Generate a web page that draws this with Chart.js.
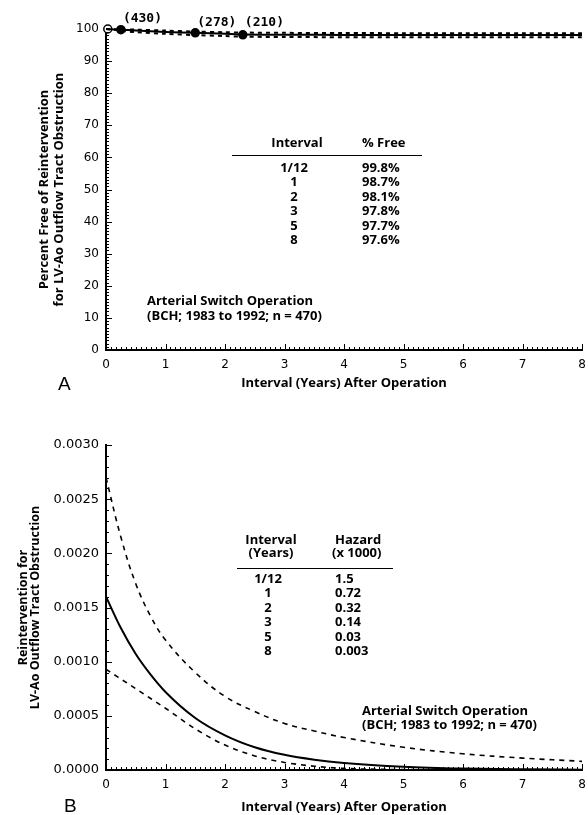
<!DOCTYPE html>
<html>
<head>
<meta charset="utf-8">
<script src="https://cdn.jsdelivr.net/npm/chart.js"></script>
<style>
  html, body { margin: 0; padding: 0; background: #fff; }
  #page { position: relative; width: 588px; height: 815px; background: #fff; overflow: hidden; }
  canvas { position: absolute; left: 0; }
  .txt { position: absolute; font-family: 'Open Sans', sans-serif; font-weight: 700; font-size: 13px; color: #000; white-space: nowrap; line-height: 14.4px; }
  .rule { position: absolute; height: 0; border-top: 1.5px solid #000; }
  .panel { position: absolute; font-family: 'Liberation Sans', sans-serif; font-size: 19px; color: #000; }
  .risk { position: absolute; font-family: 'DejaVu Sans Mono', monospace; font-weight: 700; font-size: 13px; color: #000; white-space: nowrap; }
</style>
</head>
<body>
<div id="page">
  <canvas id="chartA" width="588" height="395" style="top:0"></canvas>
  <canvas id="chartB" width="588" height="415" style="top:400px"></canvas>
</div>
<script>
// Panel A - percent free of reintervention
var freeYears = [0, 0.25, 0.5, 1, 1.5, 2, 2.3, 3, 4, 5, 6, 7, 8];
var freeEst   = [100, 99.8, 99.5, 99.1, 98.8, 98.5, 98.3, 98.2, 98.15, 98.1, 98.1, 98.1, 98.1];
var freeUpper = [100, 99.9, 99.8, 99.5, 99.2, 99.0, 98.9, 98.8, 98.75, 98.7, 98.7, 98.7, 98.7];
var freeLower = [100, 99.5, 99.0, 98.5, 98.1, 97.8, 97.6, 97.5, 97.45, 97.4, 97.4, 97.4, 97.4];
var eventYears = [0.03, 0.25, 1.5, 2.3];
var eventFree  = [100, 99.8, 98.8, 98.2];
var riskYears  = [0.25, 1.5, 2.3];
var riskLabels = ['(430)', '(278)', '(210)'];
var tableAIntervals = ['1/12', '1', '2', '3', '5', '8'];
var tableAFree = ['99.8%', '98.7%', '98.1%', '97.8%', '97.7%', '97.6%'];

// Panel B - hazard
var hazYears = [0, 0.25, 0.5, 0.75, 1, 1.5, 2, 2.5, 3, 3.5, 4, 5, 6, 7, 8];
var hazEst   = [0.0016, 0.00131, 0.00107, 0.00088, 0.00072, 0.00048, 0.00032, 0.00021, 0.00014, 0.000095, 0.000065, 0.00003, 0.000013, 0.000006, 0.000003];
var hazUpper = [0.0027, 0.00215, 0.00172, 0.00142, 0.0012, 0.0009, 0.00068, 0.00054, 0.00043, 0.00036, 0.0003, 0.00021, 0.00015, 0.00011, 0.00008];
var hazLower = [0.00093, 0.00084, 0.00075, 0.00066, 0.00057, 0.00038, 0.00023, 0.00013, 0.00007, 0.000035, 0.000015, 0.000004, 0.000001, 0.0000003, 0.0000001];
var tableBIntervals = ['1/12', '1', '2', '3', '5', '8'];
var tableBHazard = ['1.5', '0.72', '0.32', '0.14', '0.03', '0.003'];

var xTicks = [0, 1, 2, 3, 4, 5, 6, 7, 8];

function pts(xs, ys) {
    return xs.map(function(x, i) { return {x: x, y: ys[i]}; });
}

// small inward tick marks along both axes
var inwardTicks = {
    id: 'inwardTicks',
    afterDraw: function(chart, args, opts) {
        var ctx = chart.ctx, area = chart.chartArea;
        var x = chart.scales.x, y = chart.scales.y;
        ctx.save();
        ctx.strokeStyle = '#000';
        ctx.lineWidth = 1;
        ctx.beginPath();
        var ny = Math.round((y.max - y.min) / opts.yStep);
        for (var i = 0; i <= ny; i++) {
            var py = Math.round(y.getPixelForValue(y.min + i * opts.yStep)) + 0.5;
            var len = (i % opts.yMajor === 0) ? 6 : 3;
            ctx.moveTo(area.left, py);
            ctx.lineTo(area.left + len, py);
        }
        var nx = Math.round((x.max - x.min) * 12);
        for (var j = 0; j <= nx; j++) {
            var px = Math.round(x.getPixelForValue(x.min + j / 12)) + 0.5;
            var l2 = (j % 12 === 0) ? 6 : 3;
            ctx.moveTo(px, area.bottom);
            ctx.lineTo(px, area.bottom - l2);
        }
        ctx.stroke();
        ctx.restore();
    }
};

var tickFont = {family: 'DejaVu Sans', size: 12};
var titleFont = {family: 'Open Sans', size: 13, weight: 'bold', lineHeight: 1.15};

function xScale(titlePad) {
    return {
        type: 'linear', min: 0, max: 8,
        afterBuildTicks: function(s) { s.ticks = xTicks.map(function(v) { return {value: v}; }); },
        ticks: {font: tickFont, color: '#000', padding: 8},
        grid: {display: false, drawTicks: false},
        border: {display: true, color: '#000', width: 2},
        title: {display: true, text: 'Interval (Years) After Operation', font: titleFont, color: '#000', padding: {top: 0, bottom: titlePad}},
        afterFit: function(s) { s.height = 45; s.paddingLeft = 0; s.paddingRight = 0; }
    };
}

new Chart(document.getElementById('chartA'), {
    type: 'line',
    data: {
        datasets: [
            {data: pts(freeYears, freeUpper), borderColor: '#000', borderWidth: 2, borderDash: [4, 4], pointRadius: 0, tension: 0.3, clip: false},
            {data: pts(freeYears, freeLower), borderColor: '#000', borderWidth: 2, borderDash: [4, 4], pointRadius: 0, tension: 0.3, clip: false},
            {data: pts(freeYears, freeEst), borderColor: '#000', borderWidth: 2, pointRadius: 0, tension: 0.3, clip: false},
            {data: pts(eventYears, eventFree), showLine: false, pointRadius: 4, borderColor: '#000', borderWidth: 1.5,
             pointBackgroundColor: ['#fff', '#000', '#000', '#000'], clip: false}
        ]
    },
    options: {
        responsive: false,
        animation: false,
        layout: {padding: {left: 33, right: 6, top: 29, bottom: 0}},
        plugins: {legend: {display: false}, tooltip: {enabled: false},
                  inwardTicks: {yStep: 1, yMajor: 10}},
        scales: {
            x: xScale(4),
            y: {
                min: 0, max: 100,
                ticks: {stepSize: 10, font: tickFont, color: '#000', padding: 7},
                grid: {display: false, drawTicks: false},
                border: {display: true, color: '#000', width: 2},
                title: {display: true, text: ['Percent Free of Reintervention', 'for LV-Ao Outflow Tract Obstruction'],
                        font: titleFont, color: '#000', padding: {top: 4, bottom: 4}},
                afterFit: function(s) { s.width = 73; }
            }
        }
    },
    plugins: [inwardTicks]
});

var chartA = Chart.getChart('chartA');

new Chart(document.getElementById('chartB'), {
    type: 'line',
    data: {
        datasets: [
            {data: pts(hazYears, hazUpper), borderColor: '#000', borderWidth: 1.6, borderDash: [5, 5], pointRadius: 0, tension: 0.4},
            {data: pts(hazYears, hazLower), borderColor: '#000', borderWidth: 1.6, borderDash: [5, 5], pointRadius: 0, cubicInterpolationMode: 'monotone'},
            {data: pts(hazYears, hazEst), borderColor: '#000', borderWidth: 2, pointRadius: 0, cubicInterpolationMode: 'monotone'}
        ]
    },
    options: {
        responsive: false,
        animation: false,
        layout: {padding: {left: 13, right: 6, top: 45, bottom: 0}},
        plugins: {legend: {display: false}, tooltip: {enabled: false},
                  inwardTicks: {yStep: 0.0001, yMajor: 5}},
        scales: {
            x: xScale(0),
            y: {
                min: 0, max: 0.003,
                ticks: {stepSize: 0.0005, font: {family: 'DejaVu Sans', size: 13}, color: '#000', padding: 7,
                        callback: function(v) { return Number(v).toFixed(4); }},
                grid: {display: false, drawTicks: false},
                border: {display: true, color: '#000', width: 2},
                title: {display: true, text: ['Reintervention for', 'LV-Ao Outflow Tract Obstruction'],
                        font: {family: 'Open Sans', size: 12.5, weight: 'bold', lineHeight: 1.0}, color: '#000', padding: {top: 4, bottom: 4}},
                afterFit: function(s) { s.width = 93; }
            }
        }
    },
    plugins: [inwardTicks]
});

// text overlays
var page = document.getElementById('page');
function addText(cls, html, left, top, extra) {
    var d = document.createElement('div');
    d.className = cls;
    d.innerHTML = html;
    d.style.left = left + 'px';
    d.style.top = top + 'px';
    if (extra) for (var k in extra) d.style[k] = extra[k];
    page.appendChild(d);
    return d;
}
function centered(cls, html, cx, top, extra) {
    var d = addText(cls, html, cx - 60, top, extra);
    d.style.width = '120px';
    d.style.textAlign = 'center';
    return d;
}

// numbers at risk, placed with the x scale of panel A
riskLabels.forEach(function(lab, i) {
    var px = chartA.scales.x.getPixelForValue(riskYears[i]);
    addText('risk', lab, px + 2, i === 0 ? 10 : 14);
});

// table A
centered('txt', 'Interval', 297, 135);
addText('txt', '% Free', 362, 135);
addText('rule', '', 232, 155, {width: '190px'});
centered('txt', tableAIntervals.join('<br>'), 294, 160);
addText('txt', tableAFree.join('<br>'), 362, 160);
addText('txt', 'Arterial Switch Operation<br>(BCH; 1983 to 1992; n = 470)', 147, 293, {lineHeight: '15px'});
addText('panel', 'A', 58, 373);

// table B
centered('txt', 'Interval<br>(Years)', 271, 533, {lineHeight: '13px'});
addText('txt', '(x 1000)', 332, 546, {lineHeight: '13px'});
addText('txt', 'Hazard', 335, 533, {lineHeight: '13px'});
addText('rule', '', 237, 568, {width: '156px'});
centered('txt', tableBIntervals.join('<br>'), 268, 571);
addText('txt', tableBHazard.join('<br>'), 335, 571);
addText('txt', 'Arterial Switch Operation<br>(BCH; 1983 to 1992; n = 470)', 362, 703, {lineHeight: '14px'});
addText('panel', 'B', 64, 795);
</script>
</body>
</html>
